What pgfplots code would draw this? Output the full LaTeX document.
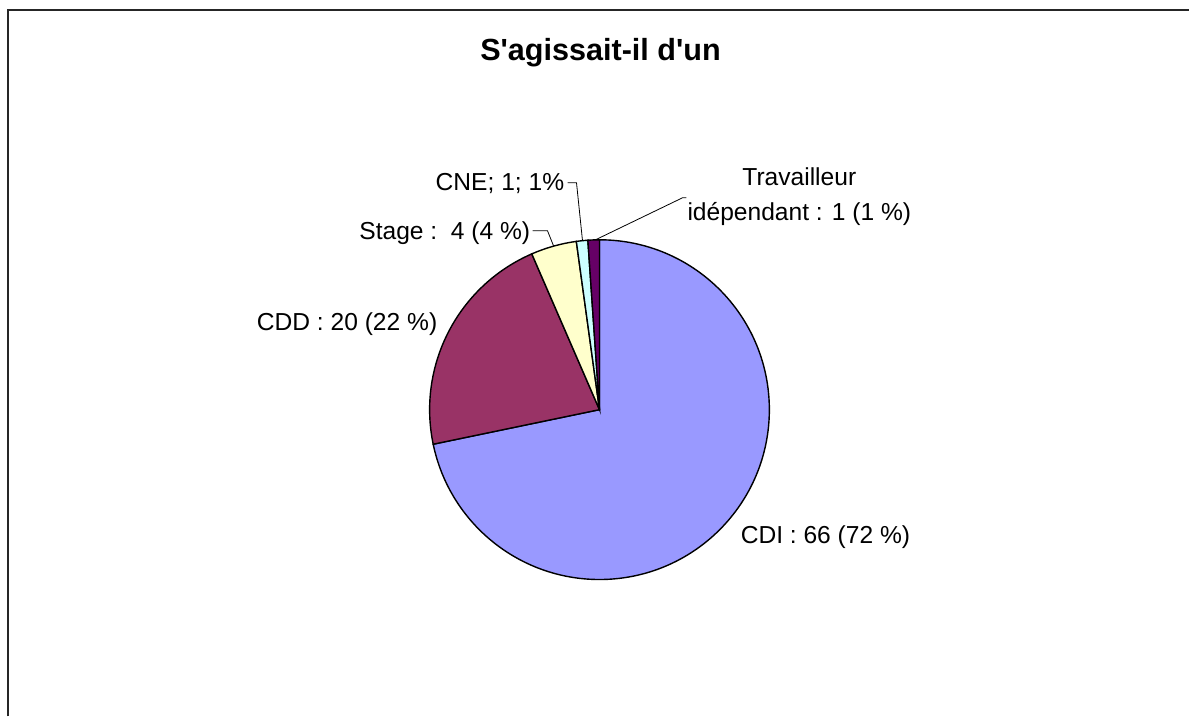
\documentclass[border=0pt]{standalone}
\usepackage{pgfplots}
\pgfplotsset{compat=1.18}
\usepackage{pgfplotstable}
\usepackage{fontspec}
\setmainfont{Liberation Sans}

\definecolor{cdi}{HTML}{9999FF}
\definecolor{cdd}{HTML}{993366}
\definecolor{stage}{HTML}{FFFFCC}
\definecolor{cne}{HTML}{CCFFFF}
\definecolor{trav}{HTML}{660066}

% effectifs par type de contrat (sens horaire depuis midi)
\pgfplotstableread{
type value
CDI 66
CDD 20
Stage 4
CNE 1
Trav 1
}\piedata

\begin{document}
\begin{tikzpicture}
    \pgfplotstablegetelem{0}{value}\of\piedata \let\vA\pgfplotsretval
    \pgfplotstablegetelem{1}{value}\of\piedata \let\vB\pgfplotsretval
    \pgfplotstablegetelem{2}{value}\of\piedata \let\vC\pgfplotsretval
    \pgfplotstablegetelem{3}{value}\of\piedata \let\vD\pgfplotsretval
    \pgfplotstablegetelem{4}{value}\of\piedata \let\vE\pgfplotsretval
    \pgfmathsetmacro\total{\vA+\vB+\vC+\vD+\vE}
    \pgfmathsetmacro\aA{90-360*(\vA/\total)}
    \pgfmathsetmacro\aB{\aA-360*(\vB/\total)}
    \pgfmathsetmacro\aC{\aB-360*(\vC/\total)}
    \pgfmathsetmacro\aD{\aC-360*(\vD/\total)}
    \pgfmathsetmacro\aE{\aD-360*(\vE/\total)}
    \def\R{85pt}
    \begin{axis}[
        width = 595pt,
        height = 358.5pt,
        scale only axis,
        xmin = 0, xmax = 1190,
        ymin = 0, ymax = 717,
        y dir = reverse,
        hide axis,
        clip = false,
        ]
        \path (axis cs:0,0) rectangle (axis cs:1190,717);

        % cadre (coupé à droite et en bas)
        \draw[line width=1pt, black!85] (axis cs:8,717) -- (axis cs:8,10) -- (axis cs:1190,10);

        % secteurs
        \filldraw[fill=cdi, draw=black, line width=0.7pt] (axis cs:600,410) -- ++(90:\R) arc[start angle=90, end angle=\aA, radius=\R] -- cycle;
        \filldraw[fill=cdd, draw=black, line width=0.7pt] (axis cs:600,410) -- ++(\aA:\R) arc[start angle=\aA, end angle=\aB, radius=\R] -- cycle;
        \filldraw[fill=stage, draw=black, line width=0.7pt] (axis cs:600,410) -- ++(\aB:\R) arc[start angle=\aB, end angle=\aC, radius=\R] -- cycle;
        \filldraw[fill=cne, draw=black, line width=0.7pt] (axis cs:600,410) -- ++(\aC:\R) arc[start angle=\aC, end angle=\aD, radius=\R] -- cycle;
        \filldraw[fill=trav, draw=black, line width=0.7pt] (axis cs:600,410) -- ++(\aD:\R) arc[start angle=\aD, end angle=\aE, radius=\R] -- cycle;

        % titre
        \node[font=\fontsize{15.3}{18}\selectfont\bfseries] at (axis cs:601,53) {S\textquotesingle agissait-il d\textquotesingle un};

        % étiquettes
        \node[anchor=west, inner sep=0pt, font=\fontsize{12.3}{14}\selectfont] at (axis cs:741,538) {CDI : 66 (72 \%)};
        \node[anchor=east, inner sep=0pt, font=\fontsize{12.3}{14}\selectfont] at (axis cs:438,324) {CDD : 20 (22 \%)};
        \node[anchor=east, inner sep=0pt, font=\fontsize{12.3}{14}\selectfont] at (axis cs:531,233) {Stage :\ \ 4 (4 \%)};
        \node[anchor=east, inner sep=0pt, font=\fontsize{12.3}{14}\selectfont] at (axis cs:565,184) {CNE; 1; 1\%};
        \node[align=center, inner sep=0pt, font=\fontsize{12.3}{17.5}\selectfont] at (axis cs:800,197) {Travailleur\\id\'ependant : 1 (1 \%)};

        % lignes de rappel
        \draw[line width=0.4pt] (axis cs:533,231) -- (axis cs:548,231) -- (axis cs:554,246);
        \draw[line width=0.4pt] (axis cs:568,183) -- (axis cs:577,183) -- (axis cs:583,241);
        \draw[line width=0.4pt] (axis cs:596,240) -- (axis cs:683,198) -- (axis cs:687,198);
    \end{axis}
\end{tikzpicture}
\end{document}
